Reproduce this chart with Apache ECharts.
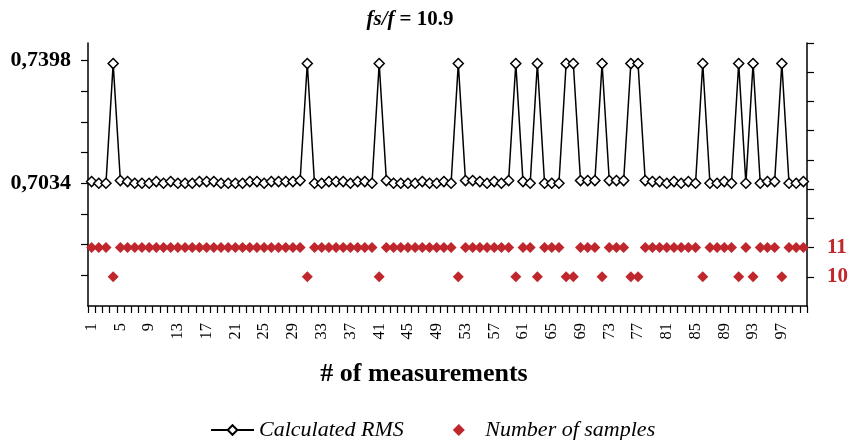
<!DOCTYPE html>
<html>
<head>
<meta charset="utf-8">
<script src="https://cdn.jsdelivr.net/npm/echarts@6/dist/echarts.min.js"></script>
<style>html,body{margin:0;padding:0;background:#fff;}#c{width:852px;height:440px;}</style>
</head>
<body>
<div id="c"></div>
<script>
const categories = [1,2,3,4,5,6,7,8,9,10,11,12,13,14,15,16,17,18,19,20,21,22,23,24,25,26,27,28,29,30,31,32,33,34,35,36,37,38,39,40,41,42,43,44,45,46,47,48,49,50,51,52,53,54,55,56,57,58,59,60,61,62,63,64,65,66,67,68,69,70,71,72,73,74,75,76,77,78,79,80,81,82,83,84,85,86,87,88,89,90,91,92,93,94,95,96,97,98,99,100];
const rmsValues = [
 0.7039,0.7034,0.7034,0.7389,0.7042,0.7039,0.7034,0.7034,0.7034,0.7039,
 0.7034,0.7039,0.7034,0.7034,0.7034,0.7039,0.7039,0.7039,0.7034,0.7034,
 0.7034,0.7034,0.7039,0.7039,0.7034,0.7039,0.7039,0.7039,0.7039,0.7042,
 0.7389,0.7034,0.7034,0.7039,0.7039,0.7039,0.7034,0.7039,0.7039,0.7034,
 0.7389,0.7042,0.7034,0.7034,0.7034,0.7034,0.7039,0.7034,0.7034,0.7039,
 0.7034,0.7389,0.7042,0.7042,0.7039,0.7034,0.7039,0.7034,0.7042,0.7389,
 0.7039,0.7034,0.7389,0.7034,0.7034,0.7034,0.7389,0.7389,0.7042,0.7042,
 0.7042,0.7389,0.7042,0.7042,0.7042,0.7389,0.7389,0.7042,0.7039,0.7039,
 0.7034,0.7039,0.7034,0.7039,0.7034,0.7389,0.7034,0.7034,0.7039,0.7034,
 0.7389,0.7034,0.7389,0.7034,0.7039,0.7039,0.7389,0.7034,0.7034,0.7039];
const sampleCounts = [
 11,11,11,10,11,11,11,11,11,11,
 11,11,11,11,11,11,11,11,11,11,
 11,11,11,11,11,11,11,11,11,11,
 10,11,11,11,11,11,11,11,11,11,
 10,11,11,11,11,11,11,11,11,11,
 11,10,11,11,11,11,11,11,11,10,
 11,11,10,11,11,11,10,10,11,11,
 11,10,11,11,11,10,10,11,11,11,
 11,11,11,11,11,10,11,11,11,11,
 10,11,10,11,11,11,10,11,11,11];
const leftTickValues = [0.6761,0.6852,0.6943,0.7034,0.7125,0.7216,0.7307,0.7398];
const leftLabelValues = [0.7034,0.7398];
const rightTickValues = [10,11,12,13,14,15,16,17,18];
const rightLabelValues = [10,11];
const seriesNames = ['Calculated RMS','Number of samples'];

const serif = 'Liberation Serif';
const red = '#c0272d';
const chart = echarts.init(document.getElementById('c'), null, {renderer:'canvas'});
chart.setOption({
  animation:false,
  backgroundColor:'#fff',
  title:[{
    text:'{a|fs/f} {b|= 10.9}',
    left:405, top:4, textAlign:'center',
    textStyle:{rich:{
      a:{fontFamily:serif,fontWeight:'bold',fontStyle:'italic',fontSize:21,color:'#000'},
      b:{fontFamily:serif,fontWeight:'bold',fontSize:21,color:'#000'}
    }}
  },{
    text:'# of measurements',
    left:419, top:356, textAlign:'center',
    textStyle:{fontFamily:serif,fontWeight:'bold',fontSize:26,color:'#000'}
  }],
  legend:{
    left:210, top:419, padding:0, itemGap:49, itemWidth:43, itemHeight:12,
    textStyle:{fontFamily:serif,fontStyle:'italic',fontSize:22,color:'#000'},
    data:[
      {name:seriesNames[0]},
      {name:seriesNames[1], icon:'path://M5,0L10,5L5,10L0,5Z', itemStyle:{color:red,opacity:1}}
    ]
  },
  grid:{left:88,right:45,top:43,bottom:134},
  xAxis:{
    type:'category', data:categories, boundaryGap:true,
    axisLine:{lineStyle:{color:'#000',width:1.5}},
    axisTick:{show:true,interval:0,length:7,lineStyle:{color:'#000',width:1.2}},
    axisLabel:{interval:3,rotate:90,margin:17,fontFamily:serif,fontSize:16.5,color:'#000'},
    splitLine:{show:false}
  },
  yAxis:[{
    type:'value', min:0.667, max:0.745, position:'left',
    axisLine:{show:true,lineStyle:{color:'#000',width:1.5}},
    axisTick:{show:true,length:7,customValues:leftTickValues,lineStyle:{color:'#000',width:1.2}},
    axisLabel:{customValues:leftLabelValues,margin:17,fontFamily:serif,fontWeight:'bold',fontSize:22,color:'#000',
      formatter:v=>v.toFixed(4).replace('.',',')},
    splitLine:{show:false}
  },{
    type:'value', min:9, max:18, position:'right',
    axisLine:{show:true,lineStyle:{color:'#000',width:1.5}},
    axisTick:{show:true,length:7,customValues:rightTickValues,lineStyle:{color:'#000',width:1.2}},
    axisLabel:{customValues:rightLabelValues,margin:20,fontFamily:serif,fontWeight:'bold',fontSize:21,color:red},
    splitLine:{show:false}
  }],
  series:[{
    name:seriesNames[0], type:'line', yAxisIndex:0, data:rmsValues,
    showAllSymbol:true, symbol:'diamond', symbolSize:10,
    lineStyle:{color:'#000',width:1.5},
    itemStyle:{color:'#fff',borderColor:'#000',borderWidth:1.5},
    z:3
  },{
    name:seriesNames[1], type:'scatter', yAxisIndex:1, data:sampleCounts,
    symbol:'diamond', symbolSize:11,
    itemStyle:{color:red,opacity:1},
    z:2
  }]
});
</script>
</body>
</html>
